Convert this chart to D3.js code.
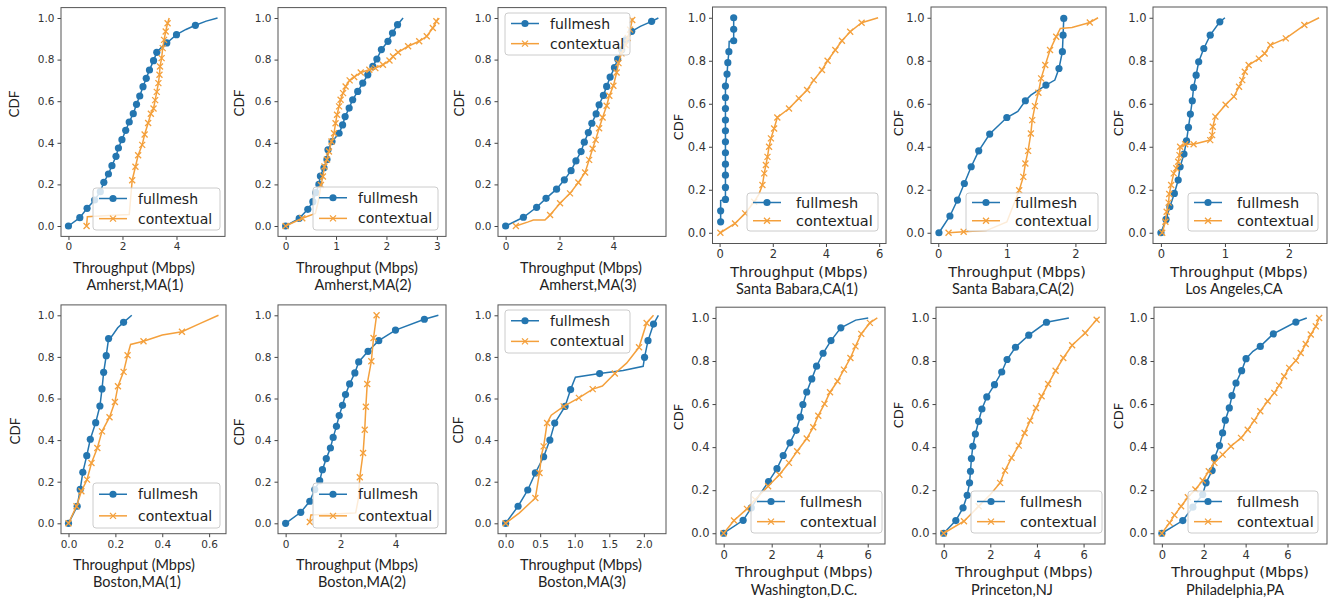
<!DOCTYPE html>
<html lang="en">
<head>
    <meta charset="UTF-8">
    <title>Throughput CDF</title>
    <script src="https://d3js.org/d3.v7.min.js"></script>
    <style>
        body { margin: 0; background: #fff; }
        svg { display: block; }
        .axis text { font-family: "DejaVu Sans", sans-serif; fill: #333; }
        .axis line { stroke: #444; }
        .axis path { display: none; }
        .frame { fill: none; stroke: #555; stroke-width: 1; }
        .legendBox { fill: #fff; fill-opacity: 0.8; stroke: #ccc; }
        .legend text { font-family: "DejaVu Sans", sans-serif; fill: #222; }
    </style>
</head>
<body>
<svg width="1331" height="599"></svg>
<script>
    // panel titles and x tick labels
    const cities = ["Amherst,MA(1)", "Amherst,MA(2)", "Amherst,MA(3)",
        "Santa Babara,CA(1)", "Santa Babara,CA(2)", "Los Angeles,CA",
        "Boston,MA(1)", "Boston,MA(2)", "Boston,MA(3)",
        "Washington,D.C.", "Princeton,NJ", "Philadelphia,PA"];
    const xTicks = [[0, 2, 4], [0, 1, 2, 3], [0, 2, 4], [0, 2, 4, 6], [0, 1, 2], [0, 1, 2],
        [0, 0.2, 0.4, 0.6], [0, 2, 4], [0, 0.5, 1, 1.5, 2], [0, 2, 4, 6], [0, 2, 4, 6], [0, 2, 4, 6]];
    const yTicks = [0, 0.2, 0.4, 0.6, 0.8, 1.0];

    // [throughput, cdf] ; a third value 0 = line vertex without marker
    const amherst1Full = [[0,0],[0.42,0.04],[0.69,0.085],[0.97,0.125],[1.18,0.165],[1.31,0.21],[1.48,0.25],[1.61,0.29],[1.76,0.335],[1.85,0.375],[1.98,0.415],[2.12,0.46],[2.25,0.5],[2.4,0.54],[2.52,0.585],[2.64,0.625],[2.76,0.67],[2.88,0.71],[3.0,0.75],[3.15,0.795],[3.27,0.835],[3.45,0.86,0],[3.64,0.88],[4.0,0.92],[4.35,0.945,0],[4.7,0.965],[5.1,0.985,0],[5.52,1.0,0]];
    const amherst1Ctx = [[0.67,0],[0.7,0.045,0],[1.5,0.05,0],[2.25,0.055,0],[2.3,0.13,0],[2.36,0.22],[2.48,0.285],[2.58,0.34],[2.73,0.39],[2.82,0.44],[2.95,0.495],[3.05,0.54],[3.15,0.565],[3.21,0.605],[3.27,0.645],[3.33,0.687],[3.37,0.727],[3.39,0.767],[3.45,0.807],[3.49,0.855],[3.54,0.895],[3.6,0.935],[3.67,0.975],[3.73,1.0,0]];

    const amherst2Full = [[0,0],[0.27,0.037],[0.44,0.08],[0.54,0.117],[0.6,0.16],[0.66,0.2],[0.69,0.24],[0.76,0.28],[0.82,0.32],[0.84,0.366],[0.92,0.406],[1.06,0.446],[1.13,0.486],[1.18,0.526],[1.26,0.567],[1.33,0.607],[1.43,0.647],[1.53,0.687],[1.63,0.727],[1.73,0.767],[1.81,0.803],[1.9,0.848],[2.03,0.888],[2.12,0.928],[2.22,0.968],[2.33,1.0,0]];
    const amherst2Ctx = [[0,0],[0.33,0.037],[0.59,0.06,0],[0.65,0.12,0],[0.7,0.197],[0.74,0.238],[0.77,0.286],[0.82,0.32],[0.86,0.358],[0.91,0.406],[0.96,0.446],[0.99,0.494],[1.02,0.535],[1.06,0.575],[1.09,0.607],[1.14,0.639],[1.19,0.671],[1.27,0.7],[1.36,0.716],[1.49,0.738],[1.66,0.751],[1.78,0.759],[1.93,0.775],[2.06,0.796],[2.13,0.815],[2.23,0.835],[2.43,0.864],[2.65,0.888],[2.8,0.912],[2.92,0.952],[2.99,0.984],[3.03,1.0,0]];

    const amherst3Full = [[0,0],[0.66,0.042],[1.15,0.09],[1.5,0.133],[1.89,0.177],[2.18,0.222],[2.43,0.266],[2.61,0.313],[2.8,0.358],[2.92,0.403],[3.07,0.449],[3.2,0.494],[3.36,0.539],[3.47,0.583],[3.63,0.628],[3.75,0.671],[3.88,0.716],[4.04,0.761],[4.16,0.803],[4.31,0.847],[4.45,0.895],[4.68,0.936],[5.0,0.96,0],[5.42,0.984],[5.67,1.0,0]];
    const amherst3Ctx = [[0.38,0],[0.84,0.02,0],[1.03,0.029,0],[1.46,0.029,0],[1.65,0.053],[2.02,0.109],[2.39,0.157],[2.7,0.209],[2.95,0.257],[3.1,0.318],[3.23,0.371],[3.34,0.414],[3.47,0.47],[3.6,0.522],[3.75,0.578],[3.85,0.626],[4.0,0.674],[4.12,0.738],[4.19,0.783],[4.3,0.83],[4.45,0.87],[4.53,0.904],[4.62,0.944],[4.7,0.99],[4.74,1.0,0]];

    const sb1Full = [[0.04,0.051],[0.04,0.102],[0.04,0.15,0],[0.22,0.155],[0.22,0.211],[0.22,0.268],[0.22,0.319],[0.22,0.372],[0.22,0.423],[0.22,0.474],[0.22,0.524],[0.22,0.578],[0.22,0.629],[0.22,0.682],[0.28,0.738],[0.31,0.791],[0.35,0.842],[0.36,0.89,0],[0.53,0.893],[0.53,0.946],[0.53,1.0]];
    const sb1Ctx = [[0.03,0],[0.58,0.043],[0.96,0.09],[1.3,0.144],[1.48,0.18,0],[1.61,0.222],[1.68,0.276],[1.74,0.315],[1.8,0.353],[1.86,0.4],[1.93,0.439],[2.05,0.485],[2.17,0.536],[2.61,0.578],[2.98,0.625],[3.29,0.664],[3.54,0.71],[3.85,0.757],[4.06,0.8],[4.35,0.85],[4.6,0.893],[4.91,0.935],[5.34,0.977],[5.96,1.0,0]];

    const sb2Full = [[0.01,0],[0.17,0.078],[0.28,0.152],[0.38,0.229],[0.48,0.307],[0.59,0.381],[0.75,0.459],[1.0,0.536],[1.16,0.564,0],[1.27,0.614],[1.35,0.64,0],[1.57,0.687],[1.7,0.71,0],[1.76,0.764],[1.81,0.842],[1.82,0.919],[1.83,0.997]];
    const sb2Ctx = [[0.15,0],[0.37,0.005],[0.7,0.01,0],[1.0,0.05,0],[1.18,0.198],[1.24,0.26],[1.27,0.322],[1.31,0.381],[1.35,0.462],[1.37,0.524],[1.41,0.589],[1.46,0.651],[1.5,0.718],[1.56,0.78],[1.63,0.85],[1.72,0.912],[1.78,0.95,0],[1.95,0.955,0],[2.21,0.978],[2.33,1.0,0]];

    const laFull = [[0,0],[0.08,0.062],[0.14,0.121],[0.21,0.183],[0.27,0.245],[0.3,0.307],[0.36,0.366],[0.4,0.428],[0.43,0.49],[0.46,0.552],[0.49,0.614],[0.51,0.676],[0.55,0.733],[0.59,0.795],[0.67,0.857],[0.77,0.919],[0.92,0.981],[1.0,1.0,0]];
    const laCtx = [[0.02,0],[0.07,0.051],[0.09,0.098],[0.12,0.14],[0.13,0.18],[0.16,0.222],[0.2,0.276],[0.24,0.3],[0.27,0.33],[0.29,0.361],[0.3,0.4],[0.38,0.412],[0.51,0.412],[0.77,0.431],[0.8,0.454],[0.81,0.493],[0.85,0.54],[1.01,0.595],[1.14,0.633],[1.22,0.679],[1.27,0.71],[1.31,0.749],[1.37,0.78],[1.53,0.81],[1.62,0.834],[1.71,0.873],[1.95,0.904],[2.24,0.966],[2.47,1.0,0]];

    const bos1Full = [[0,0],[0.037,0.082],[0.05,0.163],[0.061,0.245],[0.078,0.325],[0.093,0.404],[0.116,0.484],[0.134,0.564],[0.143,0.646],[0.15,0.726],[0.161,0.806],[0.171,0.888],[0.185,0.9,0],[0.21,0.94,0],[0.235,0.966],[0.27,1.0,0]];
    const bos1Ctx = [[0,0],[0.034,0.082],[0.055,0.154],[0.079,0.21],[0.098,0.29],[0.123,0.362],[0.143,0.442],[0.175,0.51],[0.198,0.583],[0.211,0.659],[0.235,0.728],[0.252,0.808],[0.265,0.86,0],[0.32,0.875],[0.4,0.905,0],[0.484,0.921],[0.56,0.96,0],[0.64,1.0,0]];

    const bos2Full = [[0,0],[0.55,0.053],[0.88,0.106],[1.06,0.162],[1.24,0.205],[1.34,0.258],[1.48,0.311],[1.63,0.362],[1.73,0.413],[1.85,0.466],[1.95,0.518],[2.07,0.567],[2.18,0.619],[2.33,0.67],[2.52,0.723],[2.66,0.776],[3.0,0.827],[3.39,0.878],[4.0,0.929],[5.05,0.981],[5.56,1.0,0]];
    const bos2Ctx = [[0.88,0.006],[0.92,0.04,0],[2.55,0.05,0],[2.65,0.12,0],[2.7,0.221],[2.82,0.338],[2.88,0.45],[2.92,0.56],[2.97,0.67],[3.12,0.779],[3.2,0.891],[3.31,1.0]];

    const bos3Full = [[0,0],[0.18,0.082],[0.32,0.16],[0.43,0.242],[0.55,0.32],[0.64,0.4],[0.71,0.482],[0.86,0.562],[0.94,0.643],[1.01,0.702,0],[1.36,0.72],[1.7,0.735,0],[1.99,0.755,0],[2.01,0.798],[2.06,0.878],[2.14,0.958],[2.21,1.0,0]];
    const bos3Ctx = [[0,0],[0.2,0.05,0],[0.43,0.122],[0.49,0.242],[0.52,0.33,0],[0.55,0.37],[0.6,0.482],[0.66,0.52,0],[0.84,0.562],[1.06,0.603],[1.26,0.645],[1.4,0.66,0],[1.58,0.72],[1.75,0.77,0],[1.93,0.846],[2.04,0.963],[2.14,1.0,0]];

    const dcFull = [[0,0],[0.81,0.06],[1.15,0.118],[1.5,0.18,0],[1.87,0.24],[2.22,0.3],[2.48,0.361],[2.76,0.42],[3.02,0.478],[3.19,0.539],[3.3,0.598],[3.46,0.656],[3.67,0.717],[3.87,0.776],[4.14,0.836],[4.47,0.895],[4.88,0.954],[5.5,0.99,0],[6.02,1.0,0]];
    const dcCtx = [[0,0],[0.43,0.059],[0.97,0.113],[1.31,0.156],[1.85,0.218],[2.32,0.272],[2.72,0.327],[3.06,0.381],[3.46,0.44],[3.73,0.492],[3.94,0.546],[4.2,0.601],[4.43,0.655],[4.74,0.706],[5.01,0.76],[5.28,0.814],[5.49,0.868],[5.73,0.926],[6.09,0.977],[6.4,1.0,0]];

    const prFull = [[0,0],[0.52,0.059],[0.83,0.118],[1.01,0.176],[1.11,0.234],[1.15,0.288],[1.19,0.347],[1.25,0.404],[1.36,0.461],[1.5,0.52],[1.64,0.577],[1.85,0.633],[2.18,0.69],[2.49,0.749],[2.72,0.807],[3.08,0.864],[3.65,0.92],[4.41,0.98],[5.37,1.0,0]];
    const prCtx = [[0,0],[0.87,0.056],[1.5,0.125],[2.0,0.18,0],[2.42,0.234],[2.63,0.291],[2.91,0.35],[3.22,0.407],[3.47,0.466],[3.71,0.523],[3.96,0.582],[4.2,0.636],[4.48,0.693],[4.8,0.755],[5.13,0.814],[5.51,0.873],[6.07,0.93],[6.56,0.992],[6.59,1.0,0]];

    const phFull = [[0,0],[1.0,0.059],[1.48,0.121],[1.95,0.18],[2.11,0.234],[2.4,0.291],[2.51,0.35],[2.75,0.407],[2.9,0.466],[3.03,0.525],[3.22,0.582],[3.35,0.639],[3.54,0.698],[3.81,0.755],[4.02,0.811],[4.35,0.845,0],[4.7,0.868],[5.32,0.926],[6.4,0.981],[6.92,1.0,0]];
    const phCtx = [[0,0],[0.21,0.028,0],[0.37,0.048],[0.6,0.084],[0.92,0.125],[1.24,0.167],[1.6,0.203],[1.95,0.245],[2.24,0.288],[2.51,0.327],[2.9,0.365],[3.3,0.404],[3.78,0.443],[4.1,0.481],[4.41,0.523],[4.7,0.567],[5.05,0.613],[5.37,0.652],[5.6,0.687],[5.84,0.729],[6.08,0.768],[6.4,0.802],[6.63,0.837],[6.87,0.879],[7.11,0.923],[7.35,0.961],[7.51,1.0]];

    const fullmesh = [amherst1Full, amherst2Full, amherst3Full, sb1Full, sb2Full, laFull, bos1Full, bos2Full, bos3Full, dcFull, prFull, phFull];
    const contextual = [amherst1Ctx, amherst2Ctx, amherst3Ctx, sb1Ctx, sb2Ctx, laCtx, bos1Ctx, bos2Ctx, bos3Ctx, dcCtx, prCtx, phCtx];

    // layout: axes frame, legend box, CDF label centre, x label centres; style a = small, b = large
    const layout = [
        { f: [61, 7.6, 225, 236.4], leg: [93, 188, 127, 42], cdf: [14, 104], lx: [134, 135], s: "a" },
        { f: [278, 7.6, 446, 236.4], leg: [313, 187, 125, 43], cdf: [239, 103], lx: [357, 363], s: "a" },
        { f: [498, 7.6, 666, 236.4], leg: [505, 13, 125, 42], cdf: [459, 103], lx: [581, 588], s: "a" },
        { f: [712.5, 7, 886, 243.5], leg: [747, 193, 131, 38], cdf: [678, 127], lx: [799, 797], s: "b" },
        { f: [931, 7, 1106, 243.5], leg: [966, 193, 132, 38], cdf: [898, 123], lx: [1017, 1013], s: "b" },
        { f: [1153, 7, 1327, 243.5], leg: [1188, 193, 130, 38], cdf: [1118, 123], lx: [1239, 1234], s: "b" },
        { f: [61, 304.9, 226, 533.7], leg: [93, 483, 127, 45], cdf: [15, 431], lx: [134, 137], s: "a" },
        { f: [278, 304.9, 446, 533.7], leg: [313, 483, 125, 45], cdf: [239, 432], lx: [357, 362], s: "a" },
        { f: [498, 304.9, 666, 533.7], leg: [505, 310, 125, 43], cdf: [458, 430], lx: [581, 582], s: "a" },
        { f: [716, 307.2, 885, 544], leg: [751, 491, 131, 42], cdf: [678, 417], lx: [804, 804], s: "b" },
        { f: [936, 307.2, 1105, 544], leg: [971, 491, 131, 42], cdf: [898, 415], lx: [1024, 1012], s: "b" },
        { f: [1154, 307.2, 1327, 544], leg: [1188, 491, 130, 42], cdf: [1118, 416], lx: [1240, 1235], s: "b" }
    ];

    const styles = {
        a: { tick: 10.5, labFont: "Lato, sans-serif", lab: 14.5, cdf: 13.5, cdfFont: "Lato, sans-serif", thrY: 31, cityY: 48, leg: 14, legText: 45 },
        b: { tick: 11.5, labFont: "DejaVu Sans, sans-serif", lab: 14.4, cdf: 13, cdfFont: "DejaVu Sans, sans-serif", thrY: 28, cityY: 45, leg: 14.5, legText: 49 }
    };

    const blue = "#2476b0";
    const orange = "#f4a03c";
    const xPath = "M-3,-3L3,3M-3,3L3,-3";

    const svg = d3.select("svg");

    layout.forEach((p, i) => {
        const st = styles[p.s];
        const [l, t, r, b] = p.f;
        const all = fullmesh[i].concat(contextual[i]);

        // matplotlib-like 5% margins
        const xe = d3.extent(all, d => d[0]);
        const xp = (xe[1] - xe[0]) * 0.05;
        const ye = d3.extent(all, d => d[1]);
        const yp = (ye[1] - ye[0]) * 0.05;
        const x = d3.scaleLinear().domain([xe[0] - xp, xe[1] + xp]).range([l, r]);
        const y = d3.scaleLinear().domain([ye[0] - yp, ye[1] + yp]).range([b, t]);

        const g = svg.append("g");

        g.append("g").attr("class", "axis")
            .attr("transform", `translate(0,${b})`)
            .call(d3.axisBottom(x).tickValues(xTicks[i]).tickSize(3.5).tickPadding(3)
                .tickFormat(d3.format(i === 6 || i === 8 ? ".1f" : "d")))
            .selectAll("text").style("font-size", st.tick + "px");

        g.append("g").attr("class", "axis")
            .attr("transform", `translate(${l},0)`)
            .call(d3.axisLeft(y).tickValues(yTicks).tickSize(3.5).tickPadding(3).tickFormat(d3.format(".1f")))
            .selectAll("text").style("font-size", st.tick + "px");

        const line = d3.line().x(d => x(d[0])).y(d => y(d[1]));

        [[fullmesh[i], blue, "o"], [contextual[i], orange, "x"]].forEach(([data, col, mk]) => {
            g.append("path").attr("d", line(data))
                .attr("fill", "none").attr("stroke", col).attr("stroke-width", 1.5);
            const pts = data.filter(d => d[2] !== 0);
            if (mk === "o") {
                g.selectAll(null).data(pts).enter().append("circle")
                    .attr("cx", d => x(d[0])).attr("cy", d => y(d[1]))
                    .attr("r", 3.6).attr("fill", col);
            } else {
                g.selectAll(null).data(pts).enter().append("path")
                    .attr("d", xPath)
                    .attr("transform", d => `translate(${x(d[0])},${y(d[1])})`)
                    .attr("stroke", col).attr("stroke-width", 1.3).attr("fill", "none");
            }
        });

        g.append("rect").attr("class", "frame")
            .attr("x", l).attr("y", t).attr("width", r - l).attr("height", b - t);

        // legend
        const [lx, ly, lw, lh] = p.leg;
        const lg = g.append("g").attr("class", "legend");
        lg.append("rect").attr("class", "legendBox")
            .attr("x", lx).attr("y", ly).attr("width", lw).attr("height", lh).attr("rx", 3);
        [["fullmesh", blue, "o"], ["contextual", orange, "x"]].forEach(([name, col, mk], k) => {
            const ry = ly + (k === 0 ? lh * 0.25 : lh * 0.73);
            lg.append("line").attr("x1", lx + 6).attr("x2", lx + 34).attr("y1", ry).attr("y2", ry)
                .attr("stroke", col).attr("stroke-width", 1.5);
            if (mk === "o") {
                lg.append("circle").attr("cx", lx + 20).attr("cy", ry).attr("r", 3.6).attr("fill", col);
            } else {
                lg.append("path").attr("d", xPath).attr("transform", `translate(${lx + 20},${ry})`)
                    .attr("stroke", col).attr("stroke-width", 1.3).attr("fill", "none");
            }
            lg.append("text").attr("x", lx + st.legText).attr("y", ry)
                .attr("dominant-baseline", "central")
                .style("font-size", st.leg + "px").text(name);
        });

        // labels
        g.append("text")
            .attr("transform", `translate(${p.cdf[0]},${p.cdf[1]}) rotate(-90)`)
            .attr("text-anchor", "middle").attr("dominant-baseline", "central")
            .style("font-family", st.cdfFont).style("font-size", st.cdf + "px").style("fill", "#222")
            .text("CDF");

        g.append("text")
            .attr("x", p.lx[0]).attr("y", b + st.thrY)
            .attr("text-anchor", "middle").attr("dominant-baseline", "central")
            .style("font-family", st.labFont).style("font-size", st.lab + "px").style("fill", "#222")
            .text("Throughput (Mbps)");

        g.append("text")
            .attr("x", p.lx[1]).attr("y", b + st.cityY)
            .attr("text-anchor", "middle").attr("dominant-baseline", "central")
            .style("font-family", "Lato, sans-serif").style("font-size", "14.5px").style("fill", "#222")
            .text(cities[i]);
    });
</script>
</body>
</html>
